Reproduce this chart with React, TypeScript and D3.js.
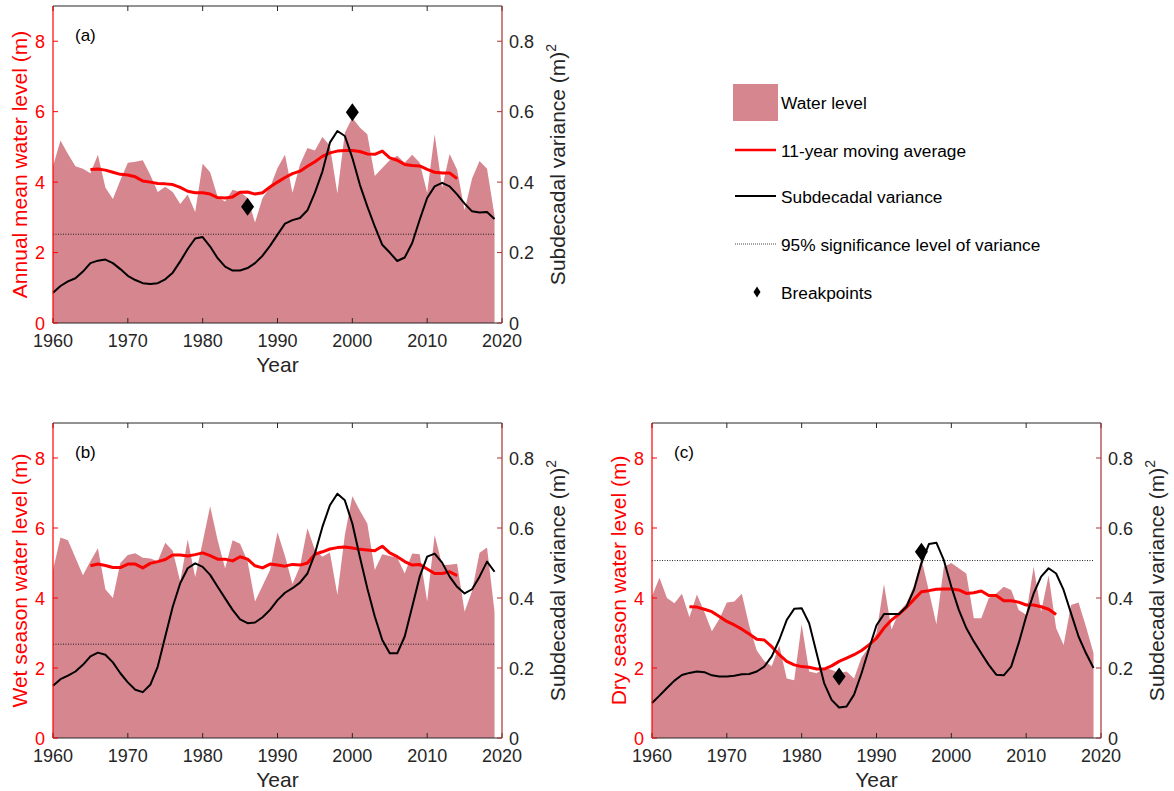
import React from "react";
import * as d3 from "d3";

// ---------- data ----------
const years = d3.range(1960, 2020); // 1960..2019
const maYears = d3.range(1965, 2015); // 1965..2014

const xTicks = [1960, 1970, 1980, 1990, 2000, 2010, 2020];
const leftTicks = [0, 2, 4, 6, 8];
const rightTicks = [0, 0.2, 0.4, 0.6, 0.8];
const rightTickLabels = ["0", "0.2", "0.4", "0.6", "0.8"];

// Panel (a) annual mean
const levelA = [
  4.45, 5.18, 4.8, 4.45, 4.38, 4.25, 4.78, 3.85, 3.52, 4.05,
  4.55, 4.58, 4.62, 4.2, 3.72, 3.87, 3.72, 3.38, 3.65, 3.15,
  4.52, 4.28, 3.58, 3.45, 3.78, 3.72, 3.55, 2.85, 3.55, 3.85,
  4.4, 4.78, 3.7, 4.5, 4.97, 4.9, 5.28, 5.03, 3.68, 5.4,
  5.83, 5.55, 5.36, 4.17, 4.4, 4.62, 4.75, 4.55, 4.78, 4.55,
  3.7, 5.36, 3.84, 4.8, 4.35, 3.2, 4.1, 4.6, 4.38, 3.05,
];
const maA = [
  4.36, 4.37, 4.34, 4.28, 4.22, 4.2, 4.15, 4.03, 4.0, 3.96,
  3.95, 3.93, 3.85, 3.74, 3.7, 3.7, 3.66, 3.56, 3.55, 3.58,
  3.71, 3.72, 3.66, 3.7, 3.86, 4.0, 4.13, 4.24, 4.31, 4.45,
  4.58, 4.73, 4.83, 4.88, 4.9, 4.9, 4.87, 4.8, 4.79, 4.88,
  4.69, 4.62, 4.5, 4.47, 4.46, 4.36, 4.28, 4.26, 4.26, 4.1,
];
const varA = [
  0.086, 0.105, 0.118, 0.127, 0.146, 0.17, 0.177, 0.18, 0.17, 0.153,
  0.134, 0.122, 0.113, 0.111, 0.113, 0.124, 0.143, 0.175, 0.21, 0.24,
  0.244, 0.217, 0.184, 0.16, 0.149, 0.149, 0.156, 0.17, 0.191, 0.219,
  0.251, 0.282, 0.292, 0.298, 0.32, 0.37, 0.43, 0.512, 0.545, 0.531,
  0.469, 0.393, 0.331, 0.274, 0.222, 0.2, 0.176, 0.186, 0.227, 0.293,
  0.355, 0.388, 0.398, 0.388, 0.365, 0.339, 0.317, 0.314, 0.315, 0.295,
];
const sigA = 0.252;
const breakA: [number, number][] = [[1986, 3.3], [2000, 5.98]];

// Panel (b) wet season
const levelB = [
  4.8, 5.73, 5.65, 5.15, 4.65, 5.05, 5.42, 4.25, 4.0, 5.0,
  5.23, 5.28, 5.15, 5.13, 5.05, 5.58, 5.35, 4.47, 5.67, 4.6,
  5.6, 6.62, 5.65, 4.85, 5.65, 5.55, 5.05, 3.9, 4.35, 4.8,
  5.88, 5.2, 4.4, 4.9, 5.99, 5.37, 5.18, 5.3, 4.09, 5.8,
  6.91, 6.5, 6.13, 4.8, 5.25, 5.2, 5.15, 4.7, 5.27, 5.25,
  3.9, 5.8, 4.94, 4.95, 4.98, 3.61, 4.2, 5.29, 5.44, 3.61,
];
const maB = [
  4.92, 4.97, 4.93, 4.87, 4.87, 4.97, 4.97, 4.86, 4.99, 5.04,
  5.1, 5.23, 5.23, 5.2, 5.24, 5.29, 5.21, 5.11, 5.11, 5.06,
  5.18, 5.11, 4.92, 4.86, 4.97, 4.94, 4.91, 4.96, 4.94, 5.0,
  5.25, 5.32, 5.4, 5.44, 5.46, 5.43, 5.39, 5.37, 5.35, 5.48,
  5.29, 5.18, 5.04, 4.94, 4.96, 4.83, 4.7, 4.7, 4.75, 4.64,
];
const varB = [
  0.149, 0.168, 0.178, 0.19, 0.209, 0.233, 0.244, 0.238, 0.216, 0.185,
  0.159, 0.138, 0.131, 0.152, 0.204, 0.29, 0.375, 0.442, 0.485, 0.499,
  0.489, 0.466, 0.432, 0.399, 0.366, 0.339, 0.328, 0.33, 0.345, 0.366,
  0.394, 0.415, 0.428, 0.444, 0.47, 0.527, 0.603, 0.665, 0.698, 0.679,
  0.613, 0.518, 0.428, 0.347, 0.28, 0.242, 0.242, 0.29, 0.375, 0.461,
  0.518, 0.527, 0.501, 0.461, 0.432, 0.413, 0.425, 0.461, 0.504, 0.475,
];
const sigB = 0.268;
const breakB: [number, number][] = [];

// Panel (c) dry season
const levelC = [
  4.05, 4.58, 4.0, 3.85, 4.12, 3.45, 4.1, 3.6, 3.05, 3.4,
  3.87, 3.9, 4.12, 3.2, 2.5, 2.2, 2.05, 2.65, 1.7, 1.65,
  3.25, 1.9, 1.85, 2.0, 1.95, 1.85, 1.9, 1.7, 2.3, 2.6,
  3.0, 4.4, 3.1, 3.6, 3.85, 4.35, 5.12, 4.2, 3.25, 4.89,
  5.0, 4.85, 4.7, 3.42, 3.42, 3.99, 4.13, 4.32, 4.23, 3.66,
  3.52, 4.89, 3.61, 4.64, 3.14, 2.66, 3.8, 3.87, 3.18, 2.42,
];
const maC = [
  3.75, 3.74, 3.68, 3.61, 3.47, 3.33, 3.23, 3.11, 2.97, 2.82,
  2.8, 2.61, 2.38, 2.19, 2.09, 2.04, 2.02, 1.97, 1.97, 2.06,
  2.19, 2.28, 2.38, 2.5, 2.66, 2.85, 3.14, 3.37, 3.54, 3.73,
  3.96, 4.18, 4.21, 4.25, 4.26, 4.26, 4.23, 4.13, 4.15, 4.2,
  4.07, 4.07, 3.92, 3.92, 3.88, 3.8, 3.8, 3.75, 3.68, 3.53,
];
const varC = [
  0.1, 0.121, 0.143, 0.164, 0.18, 0.186, 0.19, 0.188, 0.179, 0.176,
  0.176, 0.178, 0.182, 0.183, 0.19, 0.204, 0.233, 0.28, 0.337, 0.369,
  0.371, 0.328, 0.242, 0.157, 0.109, 0.087, 0.09, 0.124, 0.185, 0.255,
  0.322, 0.354, 0.354, 0.354, 0.375, 0.423, 0.499, 0.554, 0.558, 0.508,
  0.432, 0.366, 0.314, 0.276, 0.242, 0.209, 0.181, 0.179, 0.204, 0.271,
  0.347, 0.413, 0.461, 0.485, 0.47, 0.423, 0.356, 0.29, 0.242, 0.2,
];
const sigC = 0.507;
const breakC: [number, number][] = [[1985, 1.76], [1996, 5.32]];

const legendLabels = [
  "Water level",
  "11-year moving average",
  "Subdecadal variance",
  "95% significance level of variance",
  "Breakpoints",
];

// ---------- styles ----------
const FONT = "'Liberation Sans', Arial, Helvetica, sans-serif";
const FILL = "#d6868f";
const RED = "#ff0000";
const RIGHT_AX = "#a83232";
const DARK = "#262626";
const TICK_FS = 18;

function diamond(cx: number, cy: number, hw: number, hh: number) {
  return `M${cx},${cy - hh}L${cx + hw},${cy}L${cx},${cy + hh}L${cx - hw},${cy}Z`;
}

type PanelProps = {
  x0: number; x1: number; yT: number; yB: number;
  tag: string; leftLabel: string;
  level: number[]; ma: number[]; vari: number[]; sig: number;
  breaks: [number, number][];
};

function Panel(p: PanelProps) {
  const { x0, x1, yT, yB } = p;
  const xs = d3.scaleLinear().domain([1960, 2020]).range([x0, x1]);
  const yl = d3.scaleLinear().domain([0, 9]).range([yB, yT]);
  const yr = d3.scaleLinear().domain([0, 0.9]).range([yB, yT]);

  const area = d3.area<number>()
    .x((_, i) => xs(years[i]))
    .y0(yB)
    .y1((d) => yl(d));
  const maLine = d3.line<number>()
    .x((_, i) => xs(maYears[i]))
    .y((d) => yl(d));
  const varLine = d3.line<number>()
    .x((_, i) => xs(years[i]))
    .y((d) => yr(d));
  const tick = 5;
  const midY = (yT + yB) / 2;

  return (
    <g fontFamily={FONT}>
      <path d={area(p.level) || ""} fill={FILL} />
      <line x1={x0} x2={xs(2019)} y1={yr(p.sig)} y2={yr(p.sig)}
        stroke="#222" strokeWidth={1} strokeDasharray="1,1.5" />
      <path d={maLine(p.ma) || ""} fill="none" stroke={RED} strokeWidth={3} strokeLinejoin="round" />
      <path d={varLine(p.vari) || ""} fill="none" stroke="#000" strokeWidth={2} strokeLinejoin="round" />
      {p.breaks.map(([yr0, v], i) => (
        <path key={i} d={diamond(xs(yr0), yl(v), 6.5, 9)} fill="#000" />
      ))}

      {/* top & bottom axes */}
      <line x1={x0} x2={x1} y1={yT} y2={yT} stroke={DARK} strokeWidth={1} />
      <line x1={x0} x2={x1} y1={yB} y2={yB} stroke={DARK} strokeWidth={1} />
      {xTicks.map((t) => (
        <g key={t}>
          <line x1={xs(t)} x2={xs(t)} y1={yB} y2={yB - tick} stroke={DARK} />
          <line x1={xs(t)} x2={xs(t)} y1={yT} y2={yT + tick} stroke={DARK} />
          <text x={xs(t)} y={yB + 24} textAnchor="middle" fontSize={TICK_FS} fill={DARK}>{t}</text>
        </g>
      ))}
      <text x={(x0 + x1) / 2} y={yB + 49} textAnchor="middle" fontSize={21} fill={DARK}>Year</text>

      {/* left axis */}
      <line x1={x0} x2={x0} y1={yT} y2={yB} stroke={RED} strokeWidth={1.2} />
      {leftTicks.map((t) => (
        <g key={t}>
          <line x1={x0} x2={x0 + tick} y1={yl(t)} y2={yl(t)} stroke={RED} />
          <text x={x0 - 8} y={yl(t) + 6.5} textAnchor="end" fontSize={TICK_FS} fill={RED}>{t}</text>
        </g>
      ))}
      <text transform={`translate(${x0 - 26},${midY}) rotate(-90)`} textAnchor="middle"
        fontSize={21} fill={RED}>{p.leftLabel}</text>

      {/* right axis */}
      <line x1={x1} x2={x1} y1={yT} y2={yB} stroke={RIGHT_AX} strokeWidth={1.2} />
      {rightTicks.map((t, i) => (
        <g key={t}>
          <line x1={x1} x2={x1 - tick} y1={yr(t)} y2={yr(t)} stroke={RIGHT_AX} />
          <text x={x1 + 7} y={yr(t) + 6.5} textAnchor="start" fontSize={TICK_FS} fill={DARK}>{rightTickLabels[i]}</text>
        </g>
      ))}
      <text transform={`translate(${x1 + 63},${midY}) rotate(-90)`} textAnchor="middle"
        fontSize={21} fill={DARK}>
        Subdecadal variance (m)<tspan dy={-9} fontSize={14}>2</tspan>
      </text>

      <text x={x0 + 22} y={yT + 35} fontSize={17} fill="#000">{p.tag}</text>
    </g>
  );
}

function Legend() {
  const x = 733;
  const tx = 781;
  const ys = [103, 151, 197, 245, 293];
  return (
    <g fontFamily={FONT} fontSize={17.3} fill="#000">
      <rect x={x} y={84} width={45} height={37} fill={FILL} />
      <line x1={735} x2={776} y1={ys[1] - 1} y2={ys[1] - 1} stroke={RED} strokeWidth={2.5} />
      <line x1={735} x2={776} y1={ys[2] - 1} y2={ys[2] - 1} stroke="#000" strokeWidth={2} />
      <line x1={735} x2={776} y1={ys[3] - 1} y2={ys[3] - 1} stroke="#444" strokeWidth={1} strokeDasharray="1,1" />
      <path d={diamond(757, ys[4] - 1, 3.5, 5.5)} fill="#000" />
      {legendLabels.map((l, i) => (
        <text key={l} x={tx} y={ys[i] + 6}>{l}</text>
      ))}
    </g>
  );
}

export default function App() {
  return (
    <svg width={1174} height={791} viewBox="0 0 1174 791"
      style={{ position: "absolute", left: 0, top: 0, background: "#fff" }}>
      <rect x={0} y={0} width={1174} height={791} fill="#fff" />
      <Panel x0={53} x1={502} yT={6} yB={323} tag="(a)" leftLabel="Annual mean water level (m)"
        level={levelA} ma={maA} vari={varA} sig={sigA} breaks={breakA} />
      <Panel x0={53} x1={502} yT={423} yB={738} tag="(b)" leftLabel="Wet season water level (m)"
        level={levelB} ma={maB} vari={varB} sig={sigB} breaks={breakB} />
      <Panel x0={652} x1={1101} yT={423} yB={738} tag="(c)" leftLabel="Dry season water level (m)"
        level={levelC} ma={maC} vari={varC} sig={sigC} breaks={breakC} />
      <Legend />
    </svg>
  );
}
